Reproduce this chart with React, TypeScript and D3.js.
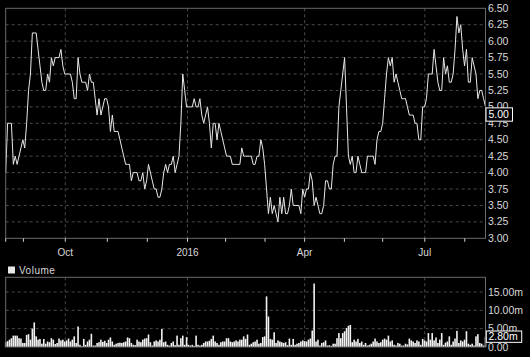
import React from "react";
import * as d3 from "d3";

// Daily closing prices (one per trading day)
const prices: number[] = [
  4.0, 4.75, 4.75, 4.75, 4.125, 4.25, 4.125, 4.25, 4.375, 4.5,
  4.375, 4.75, 5.25, 5.5, 6.125, 6.125, 6.125, 5.875, 5.625, 5.375,
  5.25, 5.25, 5.5, 5.375, 5.75, 5.625, 5.75, 5.75, 5.75, 5.875,
  5.625, 5.5, 5.5, 5.5, 5.5, 5.375, 5.125, 5.125, 5.75, 5.5,
  5.375, 5.375, 5.375, 5.25, 5.5, 5.375, 5.375, 5.125, 4.875, 5.125,
  4.875, 5.0, 5.125, 5.125, 5.0, 4.625, 4.875, 4.625, 4.625, 4.625,
  4.5, 4.375, 4.25, 4.125, 4.125, 4.125, 3.875, 4.0, 4.0, 4.0,
  3.875, 3.875, 4.0, 3.75, 3.875, 4.125, 4.0, 3.875, 3.75, 3.75,
  3.625, 3.625, 3.75, 4.0, 4.125, 4.0, 4.125, 4.125, 4.25, 4.0,
  4.125, 4.25, 4.75, 5.5, 5.25, 5.0, 5.0, 5.0, 5.0, 5.125,
  5.0, 5.0, 5.125, 4.875, 4.75, 4.875, 5.0, 4.75, 4.375, 4.75,
  4.75, 4.5, 4.75, 4.625, 4.5, 4.375, 4.25, 4.25, 4.25, 4.125,
  4.125, 4.125, 4.125, 4.125, 4.375, 4.25, 4.25, 4.25, 4.25, 4.25,
  4.125, 4.125, 4.25, 4.25, 4.5, 4.375, 4.125, 3.75, 3.375, 3.625,
  3.375, 3.5, 3.375, 3.25, 3.625, 3.375, 3.625, 3.375, 3.375, 3.5,
  3.75, 3.5, 3.5, 3.5, 3.5, 3.375, 3.75, 3.625, 3.75, 3.75,
  4.0, 3.875, 3.5, 3.625, 3.5, 3.375, 3.375, 3.5, 3.875, 3.875,
  3.75, 3.75, 4.125, 4.25, 4.25, 5.0, 5.25, 5.5, 5.75, 5.0,
  4.25, 4.125, 4.25, 4.0, 4.0, 4.25, 4.125, 4.0, 4.0, 4.0,
  4.25, 4.25, 4.25, 4.25, 4.125, 4.5, 4.625, 4.625, 4.75, 5.125,
  5.5, 5.75, 5.625, 5.75, 5.375, 5.5, 5.375, 5.25, 5.125, 5.125,
  5.125, 5.0, 4.875, 4.875, 4.875, 4.75, 4.75, 4.5, 4.5, 5.0,
  5.0, 5.125, 5.5, 5.5, 5.5, 5.875, 5.625, 5.375, 5.25, 5.25,
  5.75, 5.5, 5.625, 5.375, 5.375, 5.5, 5.875, 6.375, 6.125, 6.25,
  5.875, 5.625, 5.875, 5.375, 5.375, 5.75, 5.625, 5.5, 5.125, 5.25,
  5.25, 5.125, 5.0,
];

// Daily volume, millions
const volumes: number[] = [
  1.3, 1.6, 2.0, 2.4, 3.1, 3.1, 3.1, 2.4, 2.3, 1.1,
  1.1, 3.3, 3.5, 2.0, 5.0, 6.7, 2.9, 2.0, 2.2, 0.9,
  2.2, 0.9, 1.5, 1.3, 2.4, 2.0, 0.8, 1.1, 2.3, 1.8,
  2.0, 1.5, 1.8, 2.3, 1.5, 2.0, 2.9, 1.1, 5.6, 0.6,
  0.2, 2.2, 0.6, 1.5, 2.0, 3.6, 0.4, 0.4, 1.1, 1.3,
  2.0, 1.4, 1.7, 1.1, 2.0, 2.6, 1.5, 0.6, 0.9, 1.1,
  1.2, 1.1, 1.3, 1.5, 2.6, 2.4, 1.1, 0.6, 0.5, 2.0,
  1.5, 1.3, 2.0, 2.3, 2.4, 3.4, 1.3, 0.4, 1.5, 1.8,
  1.5, 2.0, 4.9, 1.3, 1.5, 0.6, 0.4, 1.1, 1.5, 0.5,
  3.1, 0.6, 2.4, 3.1, 0.6, 2.7, 0.6, 0.4, 0.6, 0.3,
  3.1, 0.6, 0.4, 0.6, 1.1, 1.5, 1.5, 1.7, 2.2, 3.1,
  1.5, 1.1, 0.6, 1.3, 1.5, 1.5, 2.4, 2.4, 1.5, 1.3,
  1.5, 1.8, 1.5, 2.0, 2.0, 2.9, 2.2, 3.4, 0.6, 0.9,
  1.3, 1.5, 2.0, 0.9, 1.1, 2.7, 2.9, 13.8, 8.3, 2.2,
  2.0, 4.0, 1.1, 1.8, 1.5, 1.3, 1.1, 1.3, 0.5, 2.3,
  0.6, 2.2, 0.6, 0.9, 1.1, 1.5, 1.8, 1.6, 1.5, 2.0,
  2.3, 4.5, 17.3, 1.5, 2.0, 0.4, 1.1, 1.3, 1.8, 0.4,
  0.5, 0.3, 0.9, 0.9, 2.4, 3.8, 2.4, 3.8, 4.3, 5.2,
  5.8, 6.0, 1.3, 2.0, 1.5, 2.2, 1.1, 1.5, 0.6, 1.1,
  0.4, 0.6, 0.9, 1.5, 2.3, 1.5, 1.1, 1.3, 2.0, 2.3,
  2.0, 3.1, 1.5, 1.8, 0.6, 0.4, 1.1, 0.9, 0.4, 0.4,
  0.9, 0.7, 2.3, 1.8, 1.5, 1.1, 1.8, 1.5, 0.6, 2.2,
  1.8, 1.5, 3.8, 2.0, 3.8, 1.8, 2.6, 1.1, 2.0, 3.8,
  0.6, 1.2, 1.5, 2.9, 0.6, 1.5, 2.3, 4.4, 1.1, 1.8,
  1.5, 2.0, 4.3, 0.9, 0.6, 0.9, 0.4, 2.9, 3.5, 1.1,
  0.9, 0.4, 2.8,
];

// Month-start positions (trading-day index) and labels
const monthTicks: number[] = [0, 9.3, 31.3, 53.4, 74.4, 95.5, 115.5, 136.2, 157, 177.9, 198, 220.1, 241.1];
const majorTicks: number[] = [31.3, 95.5, 157, 220.1];
const majorLabels: string[] = ["Oct", "2016", "Apr", "Jul"];
const priceTicks: number[] = [3.0, 3.25, 3.5, 3.75, 4.0, 4.25, 4.5, 4.75, 5.0, 5.25, 5.5, 5.75, 6.0, 6.25, 6.5];
const volumeTicks: number[] = [0, 5, 10, 15];

const W = 530;
const H = 357;
const LEFT = 5.7;
const RIGHT = 485.5;
const P_TOP = 8.3;
const P_BOT = 238.3;
const V_TOP = 277.3;
const V_BOT = 347;

const FONT = "'Liberation Sans', Arial, sans-serif";
const GRID = "#4a4a4a";
const FRAME = "#6a6a6a";
const TEXT = "#d8d8d8";

export default function App() {
  const n = prices.length;
  const x = d3.scaleLinear().domain([0, n - 1]).range([LEFT, RIGHT]);
  const y = d3.scaleLinear().domain([3, 6.5]).range([P_BOT, P_TOP]);
  const yv = d3.scaleLinear().domain([0, 19]).range([V_BOT, V_TOP]);

  const line = d3
    .line<number>()
    .x((_, i) => x(i))
    .y((d) => y(d));

  const last = prices[n - 1];
  const lastVol = volumes[volumes.length - 1];

  return (
    <svg
      width={W}
      height={H}
      style={{ position: "fixed", left: 0, top: 0, display: "block" }}
      fontFamily={FONT}
    >
      <rect x={0} y={0} width={W} height={H} fill="#000" />

      {/* ---- price panel ---- */}
      {priceTicks.slice(1, -1).map((t) => (
        <line key={"pg" + t} x1={LEFT} x2={RIGHT} y1={y(t)} y2={y(t)} stroke={GRID} strokeDasharray="3,3" />
      ))}
      {majorTicks.map((t) => (
        <line key={"pv" + t} x1={x(t)} x2={x(t)} y1={P_TOP} y2={P_BOT} stroke={GRID} strokeDasharray="3,3" />
      ))}
      <path d={line(prices) || ""} fill="none" stroke="#e8e8e8" strokeWidth={1} strokeLinejoin="miter" />
      <rect x={LEFT} y={P_TOP} width={RIGHT - LEFT} height={P_BOT - P_TOP} fill="none" stroke={FRAME} />
      {monthTicks.map((t) => (
        <line key={"mt" + t} x1={x(t)} x2={x(t)} y1={P_BOT} y2={P_BOT + 3.5} stroke="#cfcfcf" />
      ))}
      {majorTicks.map((t, i) => (
        <text key={"ml" + t} x={x(t)} y={256} fill={TEXT} fontSize={10} textAnchor="middle">
          {majorLabels[i]}
        </text>
      ))}
      {priceTicks.map((t) => (
        <text key={"pl" + t} x={488} y={y(t) + 3.6} fill={TEXT} fontSize={10.5}>
          {t.toFixed(2)}
        </text>
      ))}
      <rect x={486} y={y(last) + 1} width={26.5} height={13.3} fill="#000" stroke="#fff" />
      <text x={488.5} y={y(last) + 11.6} fill="#fff" fontSize={10.5}>
        {last.toFixed(2)}
      </text>

      {/* ---- volume panel ---- */}
      <rect x={8} y={266.5} width={7} height={7} fill="#e8e8e8" />
      <text x={19} y={274} fill={TEXT} fontSize={10} letterSpacing={0.5}>
        Volume
      </text>
      {volumeTicks.slice(1).map((t) => (
        <line key={"vg" + t} x1={LEFT} x2={RIGHT} y1={yv(t)} y2={yv(t)} stroke={GRID} strokeDasharray="3,3" />
      ))}
      {majorTicks.map((t) => (
        <line key={"vv" + t} x1={x(t)} x2={x(t)} y1={V_TOP} y2={V_BOT} stroke={GRID} strokeDasharray="3,3" />
      ))}
      {volumes.map((v, i) => (
        <rect
          key={"vb" + i}
          x={x(i) - 0.8}
          y={yv(v)}
          width={1.6}
          height={V_BOT - yv(v)}
          fill="#f2f2f2"
        />
      ))}
      <rect x={LEFT} y={V_TOP} width={RIGHT - LEFT} height={V_BOT - V_TOP} fill="none" stroke={FRAME} />
      {volumeTicks.map((t) => (
        <text key={"vl" + t} x={488} y={yv(t) + 3.6} fill={TEXT} fontSize={10.5}>
          {t === 0 ? "0.00" : t.toFixed(2) + "m"}
        </text>
      ))}
      <rect x={486.3} y={yv(lastVol) - 5.7} width={35.4} height={11.3} fill="#000" stroke="#fff" />
      <text x={488.5} y={yv(lastVol) + 3.6} fill="#fff" fontSize={10.5}>
        {lastVol.toFixed(2) + "m"}
      </text>
    </svg>
  );
}
